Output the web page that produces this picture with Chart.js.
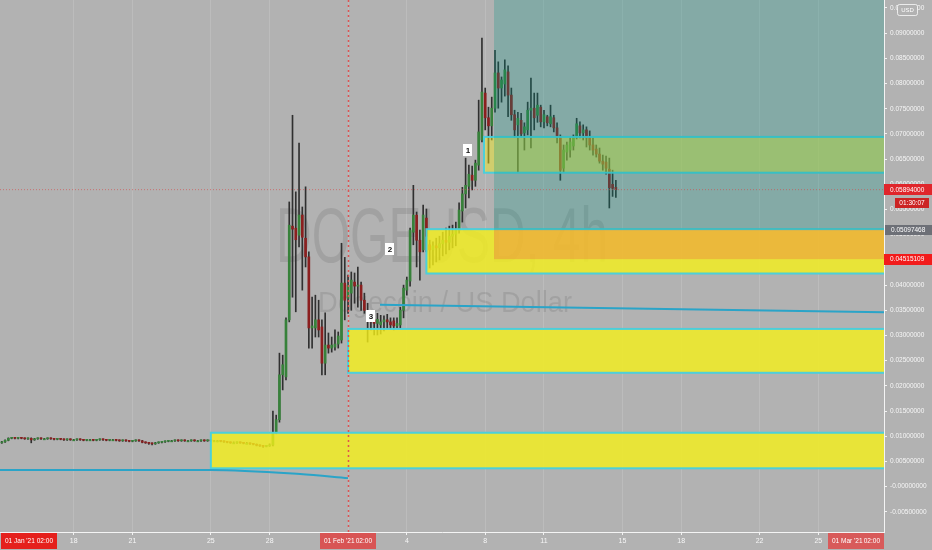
<!DOCTYPE html>
<html>
<head>
<meta charset="utf-8">
<title>DOGEUSD 4h</title>
<script src="https://cdn.jsdelivr.net/npm/chart.js@4.4.1/dist/chart.umd.min.js"></script>
<style>
  html, body { margin: 0; padding: 0; background: #b2b2b2; }
  canvas { display: block; }
</style>
</head>
<body>
<canvas id="dogeChart" width="932" height="550"></canvas>
<script>
// time is a day number: Jan 18 = 18, Feb 1 (02:00) = 32, Mar 1 = 60
var firstCandleDay = 14 + 1 / 3;
var candleStep = 1 / 6; // 4h candles

var opens = [
  0.0087, 0.0089, 0.0092, 0.0096, 0.0097, 0.0096,
  0.0097, 0.0096, 0.0095, 0.0096, 0.0093, 0.0095,
  0.0096, 0.0095, 0.0095, 0.0096, 0.0095, 0.0094,
  0.0095, 0.0094, 0.0093, 0.0094, 0.0093, 0.0093,
  0.0094, 0.0093, 0.0092, 0.0093, 0.0093, 0.0092,
  0.0093, 0.0094, 0.0093, 0.0092, 0.0093, 0.0093,
  0.0092, 0.0091, 0.0092, 0.0091, 0.0090, 0.0091,
  0.0092, 0.0091, 0.0088, 0.0087, 0.0086, 0.0085,
  0.0087, 0.0088, 0.0089, 0.0090, 0.0091, 0.0091,
  0.0092, 0.0091, 0.0092, 0.0091, 0.0091, 0.0092,
  0.0091, 0.0091, 0.0092, 0.0091, 0.0092, 0.0091,
  0.0091, 0.0091, 0.0090, 0.0089, 0.0088, 0.0087,
  0.0087, 0.0088, 0.0087, 0.0086, 0.0086, 0.0085,
  0.0084, 0.0082, 0.0081, 0.0080, 0.0081, 0.0083,
  0.0107, 0.0133, 0.0222, 0.0218, 0.0331, 0.0517,
  0.0513, 0.0499, 0.0539, 0.0493, 0.0456, 0.0315,
  0.0315, 0.0331, 0.0317, 0.0245, 0.0281, 0.0275,
  0.0277, 0.0283, 0.0291, 0.0404, 0.0374, 0.0384,
  0.0406, 0.0398, 0.0400, 0.0370, 0.0350, 0.0341,
  0.0331, 0.0324, 0.0321, 0.0327, 0.0331, 0.0327,
  0.0329, 0.0319, 0.0321, 0.0350, 0.0390, 0.0408,
  0.0505, 0.0539, 0.0489, 0.0470, 0.0533, 0.0480,
  0.0470, 0.0478, 0.0474, 0.0482, 0.0489, 0.0485,
  0.0497, 0.0501, 0.0509, 0.0547, 0.0581, 0.0596,
  0.0618, 0.0608, 0.0638, 0.0688, 0.0781, 0.0732,
  0.0716, 0.0751, 0.0821, 0.0791, 0.0799, 0.0823,
  0.0777, 0.0738, 0.0718, 0.0727, 0.0702, 0.0708,
  0.0747, 0.0751, 0.0737, 0.0753, 0.0724, 0.0734,
  0.0720, 0.0732, 0.0712, 0.0694, 0.0632, 0.0664,
  0.0668, 0.0676, 0.0696, 0.0716, 0.0702, 0.0708,
  0.0694, 0.0678, 0.0670, 0.0660, 0.0646, 0.0644,
  0.0630, 0.0600, 0.0594
];
var highs = [
  0.0090, 0.0093, 0.0097, 0.0098, 0.0098, 0.0098,
  0.0098, 0.0097, 0.0097, 0.0097, 0.0096, 0.0097,
  0.0097, 0.0096, 0.0097, 0.0097, 0.0096, 0.0096,
  0.0096, 0.0095, 0.0095, 0.0095, 0.0094, 0.0095,
  0.0095, 0.0094, 0.0094, 0.0094, 0.0094, 0.0094,
  0.0095, 0.0095, 0.0094, 0.0094, 0.0094, 0.0094,
  0.0093, 0.0093, 0.0093, 0.0092, 0.0092, 0.0093,
  0.0093, 0.0092, 0.0089, 0.0088, 0.0087, 0.0088,
  0.0089, 0.0090, 0.0091, 0.0092, 0.0092, 0.0093,
  0.0093, 0.0093, 0.0093, 0.0092, 0.0093, 0.0093,
  0.0092, 0.0093, 0.0093, 0.0093, 0.0093, 0.0092,
  0.0092, 0.0092, 0.0091, 0.0090, 0.0089, 0.0089,
  0.0089, 0.0089, 0.0088, 0.0088, 0.0087, 0.0086,
  0.0085, 0.0083, 0.0082, 0.0082, 0.0085, 0.0150,
  0.0142, 0.0265, 0.0261, 0.0335, 0.0565, 0.0737,
  0.0585, 0.0682, 0.0555, 0.0595, 0.0466, 0.0376,
  0.0380, 0.0370, 0.0331, 0.0345, 0.0305, 0.0297,
  0.0311, 0.0307, 0.0483, 0.0455, 0.0420, 0.0426,
  0.0424, 0.0436, 0.0406, 0.0384, 0.0364, 0.0346,
  0.0342, 0.0344, 0.0340, 0.0339, 0.0342, 0.0335,
  0.0335, 0.0335, 0.0356, 0.0400, 0.0416, 0.0513,
  0.0598, 0.0545, 0.0509, 0.0559, 0.0551, 0.0489,
  0.0486, 0.0493, 0.0497, 0.0505, 0.0513, 0.0517,
  0.0519, 0.0525, 0.0563, 0.0594, 0.0652, 0.0638,
  0.0636, 0.0648, 0.0767, 0.0890, 0.0791, 0.0753,
  0.0773, 0.0866, 0.0843, 0.0813, 0.0847, 0.0835,
  0.0791, 0.0747, 0.0743, 0.0741, 0.0722, 0.0763,
  0.0811, 0.0781, 0.0781, 0.0757, 0.0747, 0.0737,
  0.0757, 0.0737, 0.0722, 0.0698, 0.0678, 0.0684,
  0.0692, 0.0698, 0.0731, 0.0724, 0.0718, 0.0714,
  0.0706, 0.0692, 0.0678, 0.0672, 0.0658, 0.0656,
  0.0652, 0.0628, 0.0608
];
var lows = [
  0.0086, 0.0088, 0.0091, 0.0095, 0.0095, 0.0095,
  0.0095, 0.0094, 0.0094, 0.0087, 0.0092, 0.0094,
  0.0094, 0.0094, 0.0094, 0.0094, 0.0093, 0.0093,
  0.0093, 0.0092, 0.0092, 0.0092, 0.0092, 0.0092,
  0.0092, 0.0091, 0.0091, 0.0092, 0.0091, 0.0091,
  0.0092, 0.0092, 0.0091, 0.0091, 0.0092, 0.0091,
  0.0090, 0.0090, 0.0090, 0.0089, 0.0089, 0.0090,
  0.0090, 0.0087, 0.0086, 0.0084, 0.0083, 0.0084,
  0.0086, 0.0087, 0.0088, 0.0089, 0.0090, 0.0090,
  0.0090, 0.0090, 0.0090, 0.0090, 0.0090, 0.0090,
  0.0090, 0.0090, 0.0090, 0.0090, 0.0090, 0.0090,
  0.0089, 0.0089, 0.0088, 0.0087, 0.0086, 0.0086,
  0.0086, 0.0086, 0.0085, 0.0085, 0.0084, 0.0083,
  0.0081, 0.0080, 0.0078, 0.0079, 0.0080, 0.0081,
  0.0105, 0.0128, 0.0192, 0.0212, 0.0327, 0.0376,
  0.0347, 0.0476, 0.0390, 0.0436, 0.0275, 0.0275,
  0.0297, 0.0297, 0.0222, 0.0222, 0.0265, 0.0267,
  0.0271, 0.0275, 0.0285, 0.0331, 0.0344, 0.0350,
  0.0364, 0.0356, 0.0350, 0.0344, 0.0287, 0.0311,
  0.0301, 0.0301, 0.0303, 0.0309, 0.0313, 0.0313,
  0.0311, 0.0315, 0.0315, 0.0335, 0.0380, 0.0398,
  0.0480, 0.0436, 0.0410, 0.0466, 0.0466, 0.0434,
  0.0440, 0.0446, 0.0450, 0.0458, 0.0462, 0.0470,
  0.0474, 0.0478, 0.0503, 0.0525, 0.0553, 0.0573,
  0.0589, 0.0596, 0.0628, 0.0684, 0.0708, 0.0642,
  0.0688, 0.0743, 0.0751, 0.0763, 0.0775, 0.0734,
  0.0727, 0.0694, 0.0624, 0.0694, 0.0668, 0.0698,
  0.0672, 0.0708, 0.0723, 0.0714, 0.0712, 0.0716,
  0.0714, 0.0704, 0.0682, 0.0608, 0.0624, 0.0648,
  0.0654, 0.0668, 0.0690, 0.0692, 0.0688, 0.0674,
  0.0668, 0.0658, 0.0654, 0.0642, 0.0628, 0.0620,
  0.0553, 0.0576, 0.0574
];
var closes = [
  0.0089, 0.0092, 0.0096, 0.0097, 0.0096, 0.0097,
  0.0096, 0.0095, 0.0096, 0.0093, 0.0095, 0.0096,
  0.0095, 0.0095, 0.0096, 0.0095, 0.0094, 0.0095,
  0.0094, 0.0093, 0.0094, 0.0093, 0.0093, 0.0094,
  0.0093, 0.0092, 0.0093, 0.0093, 0.0092, 0.0093,
  0.0094, 0.0093, 0.0092, 0.0093, 0.0093, 0.0092,
  0.0091, 0.0092, 0.0091, 0.0090, 0.0091, 0.0092,
  0.0091, 0.0088, 0.0087, 0.0086, 0.0085, 0.0087,
  0.0088, 0.0089, 0.0090, 0.0091, 0.0091, 0.0092,
  0.0091, 0.0092, 0.0091, 0.0091, 0.0092, 0.0091,
  0.0091, 0.0092, 0.0091, 0.0092, 0.0091, 0.0091,
  0.0091, 0.0090, 0.0089, 0.0088, 0.0087, 0.0087,
  0.0088, 0.0087, 0.0086, 0.0086, 0.0085, 0.0084,
  0.0082, 0.0081, 0.0080, 0.0081, 0.0083, 0.0107,
  0.0133, 0.0222, 0.0242, 0.0331, 0.0519, 0.0511,
  0.0490, 0.0539, 0.0495, 0.0456, 0.0315, 0.0319,
  0.0331, 0.0311, 0.0245, 0.0281, 0.0275, 0.0281,
  0.0283, 0.0299, 0.0404, 0.0370, 0.0400, 0.0410,
  0.0398, 0.0400, 0.0370, 0.0350, 0.0341, 0.0327,
  0.0324, 0.0332, 0.0327, 0.0331, 0.0327, 0.0321,
  0.0319, 0.0324, 0.0350, 0.0394, 0.0410, 0.0509,
  0.0539, 0.0489, 0.0466, 0.0539, 0.0497, 0.0470,
  0.0478, 0.0474, 0.0482, 0.0489, 0.0485, 0.0497,
  0.0501, 0.0509, 0.0549, 0.0581, 0.0598, 0.0620,
  0.0608, 0.0642, 0.0704, 0.0783, 0.0732, 0.0716,
  0.0751, 0.0821, 0.0791, 0.0807, 0.0827, 0.0777,
  0.0738, 0.0708, 0.0731, 0.0700, 0.0714, 0.0747,
  0.0751, 0.0732, 0.0757, 0.0724, 0.0738, 0.0722,
  0.0734, 0.0712, 0.0694, 0.0628, 0.0668, 0.0678,
  0.0684, 0.0694, 0.0720, 0.0702, 0.0708, 0.0692,
  0.0678, 0.0668, 0.0660, 0.0646, 0.0640, 0.0632,
  0.0593, 0.0592, 0.05894
];

var xTickDays = [18, 21, 25, 28, 32, 35, 39, 42, 46, 49, 53, 56];
var xTickLabels = ['18', '21', '25', '28', '', '4', '8', '11', '15', '18', '22', '25'];
var yTicks = [-0.005, 0, 0.005, 0.01, 0.015, 0.02, 0.025, 0.03, 0.035, 0.04, 0.045,
              0.05, 0.055, 0.06, 0.065, 0.07, 0.075, 0.08, 0.085, 0.09, 0.095];

// supply / demand zones (yellow boxes)
var zoneStart = [25.0, 32.0, 36.0, 38.94];
var zoneTop = [0.0107, 0.0313, 0.0511, 0.0694];
var zoneBottom = [0.00365, 0.0226, 0.0423, 0.0623];
var zoneFill = ['rgba(245,240,25,0.8)', 'rgba(245,240,25,0.8)', 'rgba(245,240,25,0.8)', 'rgba(245,240,25,0.45)'];

// long position tool
var positionStart = 39.45;
var entryPrice = 0.05097468;
var stopPrice = 0.04515109;
var lastPrice = 0.05894;
var countdown = '01:30:07';

// trend lines
var trendADays = [14.24, 25, 29.55, 32];
var trendAValues = [0.0033, 0.0033, 0.0025, 0.0017];
var trendBDays = [33.63, 59.35];
var trendBValues = [0.0361, 0.0346];

var markerDays = [38.12, 34.14, 33.17];
var markerValues = [0.0668, 0.0471, 0.0338];
var markerTexts = ['1', '2', '3'];

var dateFlagDays = [1, 32, 60];
var dateFlagTexts = ["01 Jan '21", "01 Feb '21", "01 Mar '21"];
var dateFlagColors = ['#e5201c', '#d85454', '#d85a5a'];

var FONT = '"Liberation Sans", Arial, sans-serif';
var upColor = '#37813a';
var downColor = '#8b1f1f';

document.addEventListener('DOMContentLoaded', function () {
    drawDogeChart();
});

function drawDogeChart() {
    var ctx = document.getElementById('dogeChart').getContext('2d');

    var candleDays = opens.map(function (o, i) { return firstCandleDay + i * candleStep; });
    var wickData = candleDays.map(function (d, i) { return { x: d, y: [lows[i], highs[i]] }; });
    var bodyData = candleDays.map(function (d, i) { return { x: d, y: [opens[i], closes[i]] }; });
    var bodyColors = closes.map(function (c, i) { return c >= opens[i] ? upColor : downColor; });

    function pointsOf(days, values) {
        return days.map(function (d, i) { return { x: d, y: values[i] }; });
    }

    var overlays = {
        id: 'overlays',
        beforeDatasetsDraw: function (chart) {
            // watermark
            var c = chart.ctx, a = chart.chartArea;
            var cx = (a.left + a.right) / 2;
            c.save();
            c.fillStyle = 'rgba(0,0,0,0.095)';
            c.textAlign = 'center';
            c.textBaseline = 'alphabetic';
            c.font = '78px ' + FONT;
            var w = c.measureText('DOGEUSD, 4h').width;
            c.translate(cx, 262);
            c.scale(332 / w, 1);
            c.fillText('DOGEUSD, 4h', 0, 0);
            c.restore();
            c.save();
            c.fillStyle = 'rgba(0,0,0,0.095)';
            c.textAlign = 'center';
            c.font = '30px ' + FONT;
            var w2 = c.measureText('Dogecoin / US Dollar').width;
            c.translate(cx + 3, 312);
            c.scale(254 / w2, 1);
            c.fillText('Dogecoin / US Dollar', 0, 0);
            c.restore();
        },
        afterDatasetDraw: function (chart, args) {
            if (args.index !== 4) return;
            var c = chart.ctx, a = chart.chartArea;
            var xs = chart.scales.x, ys = chart.scales.y;
            c.save();
            c.beginPath();
            c.rect(a.left, a.top, a.right - a.left, a.bottom - a.top);
            c.clip();
            for (var i = 0; i < zoneStart.length; i++) {
                var x0 = xs.getPixelForValue(zoneStart[i]);
                var y0 = ys.getPixelForValue(zoneTop[i]);
                var y1 = ys.getPixelForValue(zoneBottom[i]);
                c.fillStyle = zoneFill[i];
                c.fillRect(x0, y0, a.right + 10 - x0, y1 - y0);
                c.strokeStyle = 'rgba(70,208,222,0.95)';
                c.lineWidth = 2;
                c.strokeRect(x0, y0, a.right + 10 - x0, y1 - y0);
            }
            var px = xs.getPixelForValue(positionStart);
            var pe = ys.getPixelForValue(entryPrice);
            var ps = ys.getPixelForValue(stopPrice);
            c.fillStyle = 'rgba(0,145,130,0.26)';
            c.fillRect(px, a.top, a.right - px, pe - a.top);
            c.fillStyle = 'rgba(242,54,69,0.25)';
            c.fillRect(px, pe, a.right - px, ps - pe);
            c.restore();
        },
        afterDatasetsDraw: function (chart) {
            var c = chart.ctx, a = chart.chartArea;
            var xs = chart.scales.x, ys = chart.scales.y;
            // vertical dotted line at Feb 1
            var vx = Math.round(xs.getPixelForValue(dateFlagDays[1])) + 0.5;
            c.save();
            c.strokeStyle = 'rgba(222,78,78,0.95)';
            c.lineWidth = 1.5;
            c.setLineDash([2, 3]);
            c.beginPath();
            c.moveTo(vx, a.top);
            c.lineTo(vx, a.bottom);
            c.stroke();
            c.restore();
            // numbered markers
            c.save();
            c.font = 'bold 8px ' + FONT;
            c.textAlign = 'center';
            c.textBaseline = 'middle';
            for (var i = 0; i < markerTexts.length; i++) {
                var mx = xs.getPixelForValue(markerDays[i]);
                var my = ys.getPixelForValue(markerValues[i]);
                c.fillStyle = '#ffffff';
                c.fillRect(Math.round(mx - 4.5), Math.round(my - 6), 9, 12);
                c.fillStyle = '#111111';
                c.fillText(markerTexts[i], mx, my + 0.5);
            }
            c.restore();
        },
        afterDraw: function (chart) {
            var c = chart.ctx, a = chart.chartArea;
            var xs = chart.scales.x, ys = chart.scales.y;
            var W = chart.width;
            c.save();
            c.font = '6.5px ' + FONT;
            c.textBaseline = 'middle';
            c.textAlign = 'left';
            function priceBox(value, text, color, x0, x1, h) {
                var y = ys.getPixelForValue(value);
                c.fillStyle = color;
                c.fillRect(x0, Math.round(y - h / 2), x1 - x0, h);
                c.fillStyle = '#ffffff';
                c.fillText(text, x0 + 6, y + 0.5);
                return y;
            }
            var ly = priceBox(lastPrice, lastPrice.toFixed(8), '#e0262b', a.right, W, 11);
            c.fillStyle = '#cc2424';
            c.fillRect(895, Math.round(ly + 8), 34, 10);
            c.fillStyle = '#ffffff';
            c.textAlign = 'center';
            c.fillText(countdown, 912, ly + 13.5);
            c.textAlign = 'left';
            priceBox(entryPrice, entryPrice.toFixed(8), '#6d7077', a.right + 1, W, 10);
            priceBox(stopPrice, stopPrice.toFixed(8), '#f21c1c', a.right, W, 11);

            // USD badge
            c.fillStyle = '#b2b2b2';
            c.strokeStyle = 'rgba(255,255,255,0.75)';
            c.lineWidth = 1;
            c.beginPath();
            c.roundRect(897.5, 4.5, 20, 11, 2);
            c.fill();
            c.stroke();
            c.fillStyle = '#ffffff';
            c.textAlign = 'center';
            c.font = '6px ' + FONT;
            c.fillText('USD', 907.5, 10.5);

            // date flags on the time axis
            c.font = '6.5px ' + FONT;
            for (var i = 0; i < dateFlagDays.length; i++) {
                var bw = 56;
                var fx = xs.getPixelForValue(dateFlagDays[i]);
                fx = Math.max(a.left + bw / 2 + 1, Math.min(a.right - bw / 2, fx));
                c.fillStyle = dateFlagColors[i];
                c.fillRect(Math.round(fx - bw / 2), a.bottom + 1, bw, 16);
                c.fillStyle = '#ffffff';
                c.textAlign = 'left';
                c.fillText(dateFlagTexts[i], Math.round(fx - bw / 2) + 4, a.bottom + 9.5);
                c.textAlign = 'right';
                c.fillText('02:00', Math.round(fx + bw / 2) - 4, a.bottom + 9.5);
            }
            c.restore();
        }
    };

    new Chart(ctx, {
        type: 'bar',
        data: {
            datasets: [
                {
                    type: 'line',
                    data: pointsOf(trendADays, trendAValues),
                    borderColor: '#2aa4c8',
                    borderWidth: 2,
                    pointRadius: 0,
                    cubicInterpolationMode: 'monotone',
                    order: 0
                },
                {
                    type: 'line',
                    data: pointsOf(trendBDays, trendBValues),
                    borderColor: '#2aa4c8',
                    borderWidth: 2,
                    pointRadius: 0,
                    order: 0
                },
                {
                    type: 'line',
                    data: pointsOf([14.24, 59.35], [lastPrice, lastPrice]),
                    borderColor: 'rgba(214,70,70,0.6)',
                    borderWidth: 1,
                    borderDash: [1, 2],
                    pointRadius: 0,
                    order: 0
                },
                {
                    label: 'wicks',
                    data: wickData,
                    backgroundColor: '#303030',
                    barThickness: 1,
                    grouped: false,
                    order: 2
                },
                {
                    label: 'bodies',
                    data: bodyData,
                    backgroundColor: bodyColors,
                    barThickness: 2,
                    minBarLength: 1,
                    grouped: false,
                    order: 1
                }
            ]
        },
        options: {
            responsive: false,
            animation: false,
            devicePixelRatio: 1,
            layout: { padding: 0 },
            plugins: {
                legend: { display: false },
                tooltip: { enabled: false }
            },
            scales: {
                x: {
                    type: 'linear',
                    min: 14.24,
                    max: 59.35,
                    offset: false,
                    afterBuildTicks: function (scale) {
                        scale.ticks = xTickDays.map(function (v) { return { value: v }; });
                    },
                    afterFit: function (scale) {
                        scale.height = 18;
                        scale.paddingLeft = 0;
                        scale.paddingRight = 0;
                    },
                    ticks: {
                        autoSkip: false,
                        maxRotation: 0,
                        padding: 2,
                        color: '#f6f6f6',
                        font: { family: FONT, size: 7 },
                        callback: function (value, index) { return xTickLabels[index]; }
                    },
                    grid: {
                        offset: false,
                        color: 'rgba(255,255,255,0.13)',
                        tickColor: '#f2f2f2',
                        tickLength: 3
                    },
                    border: { color: '#f4f4f4', width: 1 }
                },
                y: {
                    type: 'linear',
                    position: 'right',
                    min: -0.00899,
                    max: 0.09657,
                    afterBuildTicks: function (scale) {
                        scale.ticks = yTicks.map(function (v) { return { value: v }; });
                    },
                    afterFit: function (scale) {
                        scale.width = 48;
                        scale.paddingTop = 0;
                        scale.paddingBottom = 0;
                    },
                    ticks: {
                        padding: 3,
                        color: '#f6f6f6',
                        font: { family: FONT, size: 6.5 },
                        callback: function (value) {
                            return Math.abs(value) < 1e-9 ? '-0.00000000' : Number(value).toFixed(8);
                        }
                    },
                    grid: {
                        drawOnChartArea: false,
                        color: '#f2f2f2',
                        tickLength: 3
                    },
                    border: { color: '#f4f4f4', width: 1 }
                }
            }
        },
        plugins: [overlays]
    });
}
</script>
</body>
</html>
